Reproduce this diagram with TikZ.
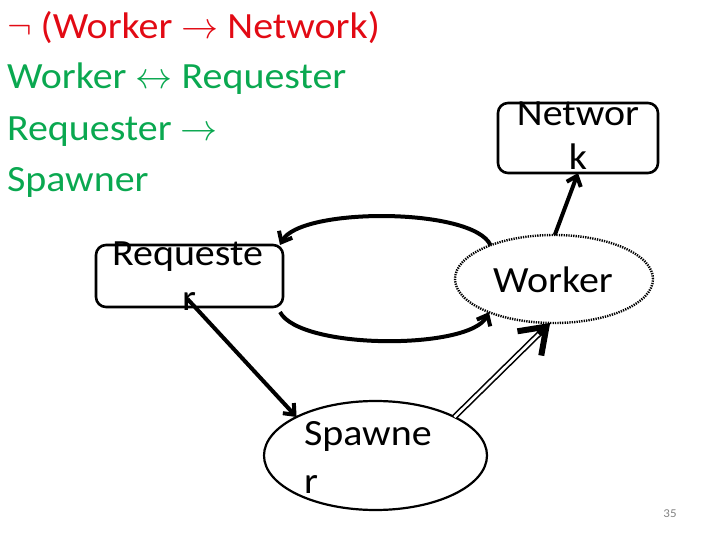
\documentclass[tikz,border=0pt]{standalone}
\usepackage{fix-cm}
\usepackage{fontspec}
\setmainfont{Carlito}[FakeStretch=1.08]
\usetikzlibrary{arrows.meta,calc,shapes.geometric}
\definecolor{tred}{RGB}{226,10,20}
\definecolor{tgreen}{RGB}{10,168,80}
\definecolor{pgray}{RGB}{130,130,130}
\begin{document}
\begin{tikzpicture}[x=1pt,y=1pt,
  every node/.style={inner sep=0pt, outer sep=0pt},
  big/.style={font=\fontsize{37}{46}\selectfont},
  txt/.style={big, anchor=base},
  ttl/.style={big, anchor=base west},
  boxshape/.style={draw, line width=2.6pt, rounded corners=10pt},
  oval/.style={ellipse, draw, line width=2.2pt},
  dotoval/.style={ellipse, draw, line width=2.4pt, dash pattern=on 1.3pt off 1.1pt},
  conn/.style={line width=4pt, -{Straight Barb[length=9pt,width=15pt]}},
  dbl/.style={double, double distance=2.6pt, line width=1.6pt},
  bighead/.style={line width=6pt, -{Straight Barb[length=24pt,width=34pt]}}
]
\useasboundingbox (0,0) rectangle (720,-540);

% title lines
\node[ttl, text=tred]   (t1) at (7,-39)  {$\neg$ (Worker $\rightarrow$ Network)};
\node[ttl, text=tgreen] (t2) at (7,-89)  {Worker $\leftrightarrow$ Requester};
\node[ttl, text=tgreen] (t3) at (7,-141) {Requester $\rightarrow$};
\node[ttl, text=tgreen] (t4) at (7,-192) {Spawner};

% shapes
\node[boxshape, minimum width=160pt, minimum height=70pt] (net) at (578,-138) {};
\node[boxshape, minimum width=187pt, minimum height=62pt] (req) at (189.5,-276) {};
\node[dotoval, minimum width=198pt, minimum height=88pt] (wk) at (554,-279) {};
\node[oval, minimum width=223pt, minimum height=109pt] (spw) at (375.5,-455.5) {};

% texts in shapes
\node[txt] (netA) at (578,-126) {Networ};
\node[txt] (netB) at (578,-170) {k};
\node[txt] (reqA) at (187.5,-265) {Requeste};
\node[txt] (reqB) at (189,-310) {r};
\node[txt] (wkA)  at (553,-292) {Worker};
\node[big, anchor=base west] (spwA) at (304,-445) {Spawne};
\node[big, anchor=base west] (spwB) at (304,-493) {r};

% connectors
\draw[conn] (wk.89) -- (net.south);
\draw[conn] (wk.152) .. controls +(-17,38) and +(20,38) .. ([xshift=-3pt]req.north east);
\draw[conn] ([shift={(-3pt,-5pt)}]req.south east) .. controls +(20,-38) and +(-19,-38) .. (wk.207);
\draw[conn] ([shift={(-2pt,8pt)}]req.south) -- (spw.154);
\draw[dbl, shorten >=12pt] (spw.26) -- (wk.265);
\draw[bighead] ($(wk.265)!16pt!(spw.26)$) -- (wk.265);

% page number
\node[font=\fontsize{12}{14}\selectfont, text=pgray] (pg) at (670,-514) {35};
\end{tikzpicture}
\end{document}
